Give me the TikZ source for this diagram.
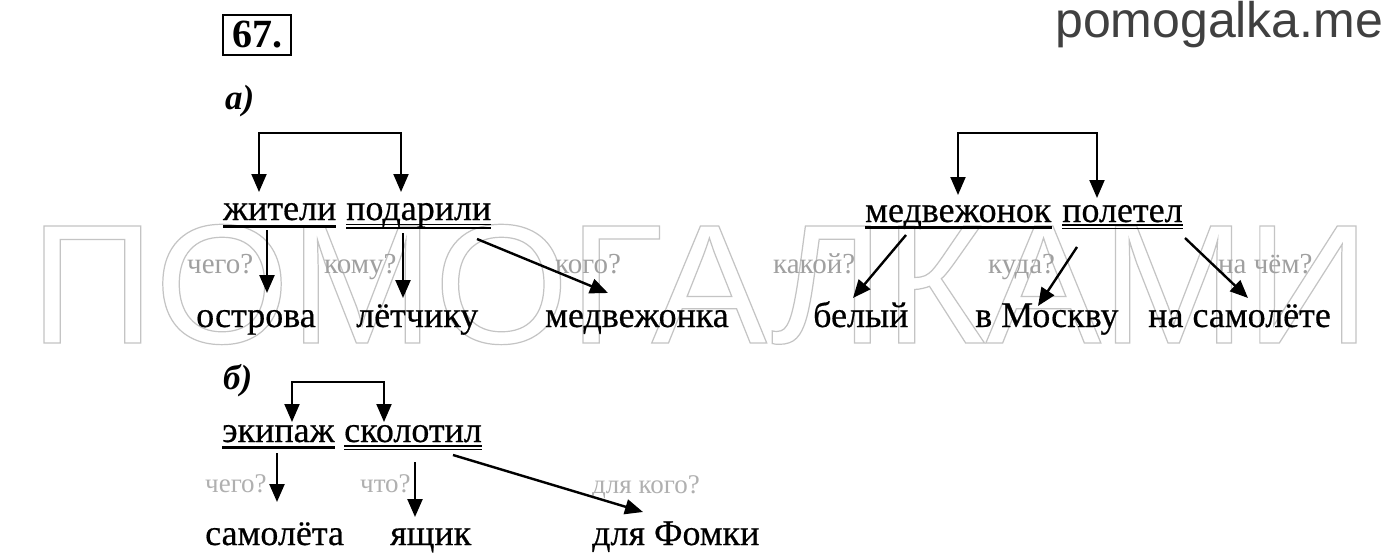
\documentclass[tikz,border=0pt]{standalone}
\usepackage{fontspec}
\setmainfont{Liberation Serif}
\newfontfamily\wordfont[FakeBold=0.5]{Liberation Serif}
\newfontfamily\sitefont{Liberation Sans}
\usetikzlibrary{arrows.meta,calc}
\definecolor{qgray}{HTML}{A0A0A0}
\definecolor{qgrayb}{HTML}{B0B0B0}
\definecolor{sitegray}{HTML}{404040}
\definecolor{wmgray}{HTML}{C4C4C4}
\tikzset{
  word/.style={anchor=base west, inner sep=0pt, font=\wordfont\fontsize{36}{40}\selectfont},
  qlabel/.style={anchor=base west, inner sep=0pt, text=qgray, font=\fontsize{29}{32}\selectfont},
  qlabelb/.style={anchor=base west, inner sep=0pt, text=qgrayb, font=\fontsize{27}{30}\selectfont},
  arr/.style={line width=2.4pt, -{Triangle[width=15pt,length=18pt]}},
  brack/.style={line width=2pt, {Triangle[width=15pt,length=18pt]}-{Triangle[width=15pt,length=18pt]}},
  subjline/.style={line width=2.6pt},
  predline/.style={line width=1.4pt},
  heading/.style={anchor=base west, inner sep=0pt, font=\fontsize{35}{38}\selectfont\bfseries\itshape},
}
\begin{document}
\begin{tikzpicture}[x=1pt,y=-1pt]
\fill[white] (0,0) rectangle (1400,559);
\useasboundingbox (0,0) rectangle (1400,559);

% watermark
\node[anchor=base, inner sep=0pt, text=wmgray, font=\sitefont\fontsize{170}{170}\selectfont] (wm) at (700,343)
  {\scalebox{1.02}[1]{\special{pdf:literal direct 1 Tr 1.2 w}ПОМОГАЛКАМИ\special{pdf:literal direct 0 Tr}}};

% site name
\node[anchor=base west, inner sep=0pt, text=sitegray, font=\sitefont\fontsize{50}{53}\selectfont] (site) at (1055,38) {pomogalka.me};

% exercise number
\node[draw, line width=2.4pt, inner sep=0pt, minimum width=68pt, minimum height=40pt,
      font=\fontsize{40}{42}\selectfont\bfseries] (num) at (257,35) {67.};

\node[heading] (ha) at (225,110) {а)};
\node[heading] (hb) at (223,389) {б)};

% ---------- a) left ----------
\node[word] (w1) at (223,220) {жители};
\node[word] (w2) at (346,220) {подарили};
\node[word] (t1) at (196,327) {острова};
\node[word] (t2) at (356,327) {лётчику};
\node[word] (t3) at (545,327) {медвежонка};
\node[qlabel] (q1) at (187,273) {чего?};
\node[qlabel] (q2) at (324,273) {кому?};
\node[qlabel] (q3) at (555,273) {кого?};

\draw[subjline] ($(w1.base west)+(0,6.5)$) -- ($(w1.base east)+(0,6.5)$);
\draw[predline] ($(w2.base west)+(0,4.5)$) -- ($(w2.base east)+(0,4.5)$);
\draw[predline] ($(w2.base west)+(0,8)$) -- ($(w2.base east)+(0,8)$);

\draw[brack] ($(w1.base west)+(36,-28)$) |- ($(w2.base west)+(55,-87)$) -- ($(w2.base west)+(55,-28)$);

\draw[arr] ($(w1.base west)+(44,10)$) -- ($(t1.base west)+(71,-34)$);
\draw[arr] ($(w2.base west)+(57,13)$) -- ($(t2.base west)+(47,-29)$);
\draw[arr] ($(w2.base west)+(131,19)$) -- ($(t3.base west)+(63,-34)$);

% ---------- a) right ----------
\node[word] (w3) at (865,222) {медвежонок};
\node[word] (w4) at (1062,222) {полетел};
\node[word] (t4) at (813,327) {белый};
\node[word] (t5) at (975,327) {в Москву};
\node[word] (t6) at (1148,327) {на самолёте};
\node[qlabel] (q4) at (773,273) {какой?};
\node[qlabel] (q5) at (988,273) {куда?};
\node[qlabel] (q6) at (1218,273) {на чём?};

\draw[subjline] ($(w3.base west)+(0,5.5)$) -- ($(w3.base east)+(0,5.5)$);
\draw[predline] ($(w4.base west)+(0,3)$) -- ($(w4.base east)+(0,3)$);
\draw[predline] ($(w4.base west)+(0,6.5)$) -- ($(w4.base east)+(0,6.5)$);

\draw[brack] ($(w3.base west)+(93,-27)$) |- ($(w4.base west)+(35,-89)$) -- ($(w4.base west)+(35,-24)$);

\draw[arr] ($(w3.base west)+(41,13)$) -- ($(t4.base west)+(40,-29)$);
\draw[arr] ($(w4.base west)+(15,25)$) -- ($(t5.base west)+(63,-21)$);
\draw[arr] ($(w4.base west)+(123,16)$) -- ($(t6.base west)+(100,-29)$);

% ---------- b) ----------
\node[word] (w5) at (222,442) {экипаж};
\node[word] (w6) at (344,442) {сколотил};
\node[word] (t7) at (205,545) {самолёта};
\node[word] (t8) at (390,545) {ящик};
\node[word] (t9) at (592,545) {для Фомки};
\node[qlabelb] (q7) at (205,492) {чего?};
\node[qlabelb] (q8) at (360,492) {что?};
\node[qlabelb] (q9) at (592,493) {для кого?};

\draw[subjline] ($(w5.base west)+(0,5.5)$) -- ($(w5.base east)+(0,5.5)$);
\draw[predline] ($(w6.base west)+(0,4)$) -- ($(w6.base east)+(0,4)$);
\draw[predline] ($(w6.base west)+(0,7.5)$) -- ($(w6.base east)+(0,7.5)$);

\draw[brack] ($(w5.base west)+(70,-20)$) |- ($(w6.base west)+(40,-60)$) -- ($(w6.base west)+(40,-20)$);

\draw[arr] ($(w5.base west)+(55,11)$) -- ($(t7.base west)+(72,-43)$);
\draw[arr] ($(w6.base west)+(71,20)$) -- ($(t8.base west)+(25,-28)$);
\draw[arr] ($(w6.base west)+(109,13)$) -- ($(t9.base west)+(51,-33)$);
\end{tikzpicture}
\end{document}
